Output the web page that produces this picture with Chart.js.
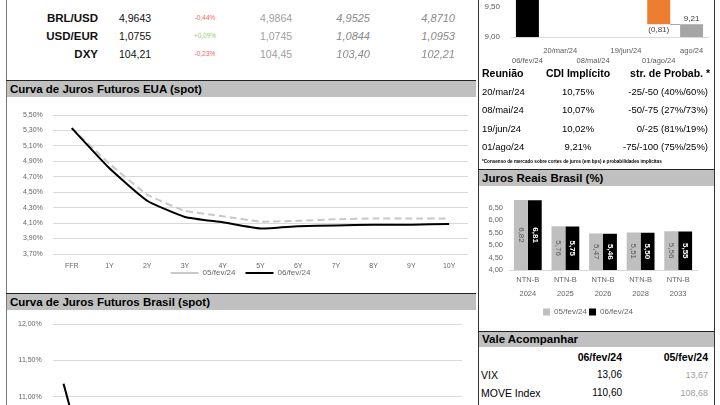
<!DOCTYPE html>
<html lang="pt-BR">
<head>
<meta charset="UTF-8">
<title>Painel de Mercado</title>
<script src="https://cdn.jsdelivr.net/npm/chart.js"></script>
<style>
    body { margin: 0; width: 720px; height: 405px; overflow: hidden; background: #fff; position: relative; font-family: "Liberation Sans", Arial, sans-serif; }
    .abs { position: absolute; white-space: nowrap; }
    .hdr { position: absolute; background: #c0c0c0; font-weight: bold; font-size: 11.5px; color: #000; line-height: 16px; padding-left: 3px; box-sizing: border-box; }
    .vl { position: absolute; width: 1px; background: #333; }
    .hl { position: absolute; height: 1px; background: #222; }
    canvas { position: absolute; }
</style>
</head>
<body>

<!-- bordas e cabeçalhos -->
<div class="vl" style="left:6px; top:0; height:405px; background:#777;"></div>
<div class="vl" style="left:478px; top:0; height:405px;"></div>
<div class="vl" style="left:714px; top:0; height:405px;"></div>

<div class="hl" style="left:6px; top:80px; width:470px;"></div>
<div class="hdr" style="left:7px; top:81px; width:469px; height:16px;">Curva de Juros Futuros EUA (spot)</div>
<div class="hl" style="left:6px; top:293px; width:470px;"></div>
<div class="hdr" style="left:7px; top:294px; width:469px; height:16px;">Curva de Juros Futuros Brasil (spot)</div>

<div class="hl" style="left:478px; top:169px; width:237px;"></div>
<div class="hdr" style="left:479px; top:170px; width:235px; height:16px;">Juros Reais Brasil (%)</div>
<div class="hl" style="left:478px; top:331px; width:237px;"></div>
<div class="hdr" style="left:479px; top:332px; width:235px; height:15px; line-height:15px;">Vale Acompanhar</div>

<canvas id="usChart" width="468" height="200" style="left:7px; top:98px;"></canvas>
<canvas id="brChart" width="468" height="241" style="left:7px; top:309px;"></canvas>
<canvas id="copomChart" width="235" height="195" style="left:479px; top:-130px;"></canvas>
<canvas id="realChart" width="236" height="141" style="left:479px; top:185px;"></canvas>

<script>
    // câmbio
    const fxNames = ['BRL/USD', 'USD/EUR', 'DXY'];
    const fxLast = ['4,9643', '1,0755', '104,21'];
    const fxChange = ['-0,44%', '+0,09%', '-0,23%'];
    const fxPrev = ['4,9864', '1,0745', '104,45'];
    const fxCol5 = ['4,9525', '1,0844', '103,40'];
    const fxCol6 = ['4,8710', '1,0953', '102,21'];

    // curva EUA
    const usTenors = ['FFR', '1Y', '2Y', '3Y', '4Y', '5Y', '6Y', '7Y', '8Y', '9Y', '10Y'];
    const us0502 = [5.33, 4.87, 4.47, 4.26, 4.19, 4.12, 4.13, 4.15, 4.16, 4.16, 4.16];
    const us0602 = [5.33, 4.81, 4.39, 4.18, 4.11, 4.03, 4.06, 4.07, 4.08, 4.08, 4.09];

    // curva Brasil (só o começo aparece)
    const brLabels = ['CDI', 'jan/25', 'jul/25', 'jan/26', 'jul/26', 'jan/27', 'jul/27', 'jan/28', 'jul/28', 'jan/29',
        'jul/29', 'jan/30', 'jul/30', 'jan/31', 'jan/32', 'jan/33', 'jan/34', 'jan/35', 'jan/36'];
    const br0502 = [11.18, 10.17, 9.96, 9.86, 9.85, 9.92, 10.02, 10.12, 10.21, 10.30, 10.38, 10.45, 10.50, 10.55, 10.60, 10.64, 10.68, 10.71, 10.74];
    const br0602 = [11.18, 10.17, 9.93, 9.82, 9.80, 9.86, 9.95, 10.05, 10.14, 10.22, 10.30, 10.37, 10.42, 10.48, 10.52, 10.56, 10.60, 10.63, 10.66];

    // copom
    const copomLabels = ['06/fev/24', '20/mar/24', '08/mai/24', '19/jun/24', '01/ago/24', 'ago/24'];
    const cdiStart = 11.15;
    const cdiPath = [10.75, 10.07, 10.02, 9.21];
    const meetings = ['20/mar/24', '08/mai/24', '19/jun/24', '01/ago/24'];
    const probs = ['-25/-50 (40%/60%)', '-50/-75 (27%/73%)', '0/-25 (81%/19%)', '-75/-100 (75%/25%)'];

    // juros reais
    const ntnbLabels = [['NTN-B', '2024'], ['NTN-B', '2025'], ['NTN-B', '2026'], ['NTN-B', '2028'], ['NTN-B', '2033']];
    const ntnb0502 = [6.82, 5.76, 5.47, 5.51, 5.56];
    const ntnb0602 = [6.81, 5.75, 5.46, 5.50, 5.55];

    // vale acompanhar
    const watchNames = ['VIX', 'MOVE Index'];
    const watch0602 = ['13,06', '110,60'];
    const watch0502 = ['13,67', '108,68'];

    function fmt(v) { return v.toFixed(2).replace('.', ','); }

    function put(text, x, y, css, align) {
        var d = document.createElement('div');
        d.className = 'abs';
        d.textContent = text;
        d.style.cssText = css;
        d.style.top = (y - 8) + 'px';
        d.style.lineHeight = '16px';
        if (align === 'right') d.style.right = (720 - x) + 'px';
        else if (align === 'center') { d.style.left = x + 'px'; d.style.transform = 'translateX(-50%)'; }
        else d.style.left = x + 'px';
        document.body.appendChild(d);
    }

    // tabela de câmbio
    for (var i = 0; i < fxNames.length; i++) {
        var y = 18 + i * 18;
        put(fxNames[i], 98, y, 'font-weight:bold; font-size:11.5px; color:#111;', 'right');
        put(fxLast[i], 119, y, 'font-size:10.5px; color:#111;');
        put(fxChange[i], 205, y, 'font-size:6.5px; color:' + (fxChange[i][0] === '-' ? '#ff5b5b' : '#8fcf70') + ';', 'center');
        put(fxPrev[i], 260, y, 'font-size:10.5px; color:#a0a0a0;');
        put(fxCol5[i], 370, y, 'font-size:11px; font-style:italic; color:#8a8a8a;', 'right');
        put(fxCol6[i], 455, y, 'font-size:11px; font-style:italic; color:#8a8a8a;', 'right');
    }

    // tabela copom
    put('Reunião', 482, 73, 'font-weight:bold; font-size:10.5px; color:#000;');
    put('CDI Implícito', 578, 73, 'font-weight:bold; font-size:10.5px; color:#000;', 'center');
    put('str. de Probab. *', 710, 73, 'font-weight:bold; font-size:10.5px; color:#000;', 'right');
    for (var i = 0; i < meetings.length; i++) {
        var y = 92 + i * 18.4;
        put(meetings[i], 482, y, 'font-size:9.5px; color:#000;');
        put(fmt(cdiPath[i]) + '%', 578, y, 'font-size:9.5px; color:#000;', 'center');
        put(probs[i], 708, y, 'font-size:9.5px; color:#000;', 'right');
    }
    put('*Consenso de mercado sobre cortes de juros (em bps) e probabilidades implícitas', 482, 162, 'font-weight:bold; font-size:4.6px; color:#000;');

    // vale acompanhar
    put('06/fev/24', 622, 357, 'font-weight:bold; font-size:10.5px; color:#000;', 'right');
    put('05/fev/24', 708, 357, 'font-weight:bold; font-size:10.5px; color:#000;', 'right');
    for (var i = 0; i < watchNames.length; i++) {
        var y = 375 + i * 18;
        put(watchNames[i], 481, y, 'font-size:10.5px; color:#000;');
        put(watch0602[i], 622, y, 'font-size:10px; color:#000;', 'right');
        put(watch0502[i], 708, y, 'font-size:9px; color:#a0a0a0;', 'right');
    }

    Chart.defaults.font.family = '"Liberation Sans", Arial, sans-serif';
    Chart.defaults.animation = false;

    // sobe a legenda para perto dos rótulos do eixo (como no Excel)
    const legendUp = {
        id: 'legendUp',
        afterLayout: function (chart) {
            chart.legend.top -= 11;
            chart.legend.bottom -= 11;
        }
    };

    function curveConfig(labels, d1, d2, yMin, yMax, step, pad, yPad) {
        return {
            type: 'line',
            data: {
                labels: labels,
                datasets: [
                    { label: '05/fev/24', data: d1, borderColor: '#c8c8c8', borderWidth: 2, borderDash: [7, 4], pointRadius: 0, tension: 0.15, order: 1 },
                    { label: '06/fev/24', data: d2, borderColor: '#000', borderWidth: 2, pointRadius: 0, tension: 0.15, order: 0 }
                ]
            },
            options: {
                responsive: false,
                layout: { padding: pad },
                scales: {
                    x: { offset: true, grid: { display: false, drawTicks: false }, border: { display: false },
                        ticks: { color: '#666', font: { size: 7 }, padding: 8 },
                        afterFit: function (s) { s.height = 16; } },
                    y: { min: yMin, max: yMax, grid: { color: '#d9d9d9', drawTicks: false }, border: { display: false },
                        ticks: { stepSize: step, color: '#666', font: { size: 7 }, padding: yPad, callback: function (v) { return fmt(v) + '%'; } } }
                },
                plugins: {
                    legend: { position: 'bottom', labels: { usePointStyle: true, pointStyle: 'line', pointStyleWidth: 28, boxHeight: 8, color: '#666', font: { size: 8 }, padding: 10,
                        sort: function (a, b) { return a.datasetIndex - b.datasetIndex; } } },
                    tooltip: { enabled: false }
                }
            },
            plugins: [legendUp]
        };
    }

    new Chart(document.getElementById('usChart'),
        curveConfig(usTenors, us0502, us0602, 3.7, 5.5, 0.2, { left: 6, right: 7, top: 17, bottom: 0 }, 10));
    new Chart(document.getElementById('brChart'),
        curveConfig(brLabels, br0502, br0602, 9.5, 12, 0.5, { left: 0, right: 13, top: 9, bottom: 0 }, 11));

    // cascata do CDI
    var wfData = [[9, cdiStart]];
    var prev = cdiStart;
    cdiPath.forEach(function (v) { wfData.push([v, prev]); prev = v; });
    wfData.push([9, prev]);
    var wfColors = copomLabels.map(function (l, i) { return i === 0 ? '#000' : (i === copomLabels.length - 1 ? '#a5a5a5' : '#ed7d31'); });

    const wfLabels = {
        id: 'wfLabels',
        afterDatasetsDraw: function (chart) {
            var ctx = chart.ctx, ys = chart.scales.y;
            var bars = chart.getDatasetMeta(0).data;
            var last = bars.length - 1;
            ctx.save();
            ctx.font = '8px "Liberation Sans"';
            ctx.fillStyle = '#404040';
            ctx.textAlign = 'center';
            bars.forEach(function (bar, i) {
                var lo = wfData[i][0], hi = wfData[i][1];
                if (i === 0 || i === last) {
                    ctx.textBaseline = 'bottom';
                    ctx.fillText(fmt(hi), bar.x, ys.getPixelForValue(hi) - 2);
                } else {
                    ctx.textBaseline = 'top';
                    ctx.fillText('(' + fmt(hi - lo) + ')', bar.x, ys.getPixelForValue(lo) + 1);
                }
                if (i < last) {
                    var end = i === 0 ? hi : lo;
                    var yy = Math.round(ys.getPixelForValue(end)) + 0.5;
                    ctx.strokeStyle = '#a6a6a6';
                    ctx.lineWidth = 1;
                    ctx.beginPath();
                    ctx.moveTo(bar.x + bar.width / 2, yy);
                    ctx.lineTo(bars[i + 1].x - bars[i + 1].width / 2, yy);
                    ctx.stroke();
                }
            });
            ctx.restore();
        }
    };

    new Chart(document.getElementById('copomChart'), {
        type: 'bar',
        data: { labels: copomLabels, datasets: [{ data: wfData, backgroundColor: wfColors, categoryPercentage: 0.7, barPercentage: 1 }] },
        options: {
            responsive: false,
            layout: { padding: { left: 0, right: 6, top: 11, bottom: 0 } },
            scales: {
                x: { grid: { display: false, drawTicks: false }, border: { color: '#d9d9d9' },
                    ticks: { autoSkip: false, maxRotation: 0, minRotation: 0, color: '#595959', font: { size: 7.5, lineHeight: 1.35 }, padding: 9,
                        callback: function (v, i) { return i % 2 ? [copomLabels[i], ''] : ['', copomLabels[i]]; } },
                    afterFit: function (s) { s.height = 28; } },
                y: { min: 9, max: 11.5, grid: { display: false, drawTicks: false }, border: { display: false },
                    ticks: { stepSize: 0.5, color: '#595959', font: { size: 8 }, padding: 11, callback: function (v) { return fmt(v); } },
                    afterFit: function (s) { s.width = 32; } }
            },
            plugins: { legend: { display: false }, tooltip: { enabled: false } }
        },
        plugins: [wfLabels]
    });

    // rótulos na vertical dentro das barras
    const barLabels = {
        id: 'barLabels',
        afterDatasetsDraw: function (chart) {
            var ctx = chart.ctx, bottom = chart.chartArea.bottom;
            chart.data.datasets.forEach(function (ds, i) {
                chart.getDatasetMeta(i).data.forEach(function (bar, j) {
                    ctx.save();
                    ctx.translate(bar.x, (bar.y + Math.min(bar.base, bottom)) / 2);
                    ctx.rotate(Math.PI / 2);
                    ctx.font = (i ? 'bold ' : '') + '8px "Liberation Sans"';
                    ctx.fillStyle = i ? '#fff' : '#595959';
                    ctx.textAlign = 'center';
                    ctx.textBaseline = 'middle';
                    ctx.fillText(fmt(ds.data[j]), 0, 0);
                    ctx.restore();
                });
            });
        }
    };

    new Chart(document.getElementById('realChart'), {
        type: 'bar',
        data: {
            labels: ntnbLabels,
            datasets: [
                { label: '05/fev/24', data: ntnb0502, backgroundColor: '#bfbfbf', categoryPercentage: 0.74, barPercentage: 1 },
                { label: '06/fev/24', data: ntnb0602, backgroundColor: '#000', categoryPercentage: 0.74, barPercentage: 1 }
            ]
        },
        options: {
            responsive: false,
            layout: { padding: { left: 0, right: 18, top: 0, bottom: 0 } },
            scales: {
                x: { grid: { display: false, drawTicks: false }, border: { color: '#d9d9d9' },
                    ticks: { maxRotation: 0, color: '#666', font: { size: 7.5, lineHeight: 1.85 }, padding: 3 },
                    afterFit: function (s) { s.height = 36; } },
                y: { min: 4, max: 7, grid: { display: false, drawTicks: false }, border: { display: false },
                    ticks: { stepSize: 0.5, autoSkip: false, color: '#666', font: { size: 7.5 }, padding: 6, callback: function (v) { return v > 6.5 ? '' : fmt(v); } },
                    afterFit: function (s) { s.width = 30; } }
            },
            plugins: {
                legend: { position: 'bottom', labels: { boxWidth: 7, boxHeight: 7, color: '#666', font: { size: 8 }, padding: 2 } },
                tooltip: { enabled: false }
            }
        },
        plugins: [barLabels]
    });
</script>
</body>
</html>
